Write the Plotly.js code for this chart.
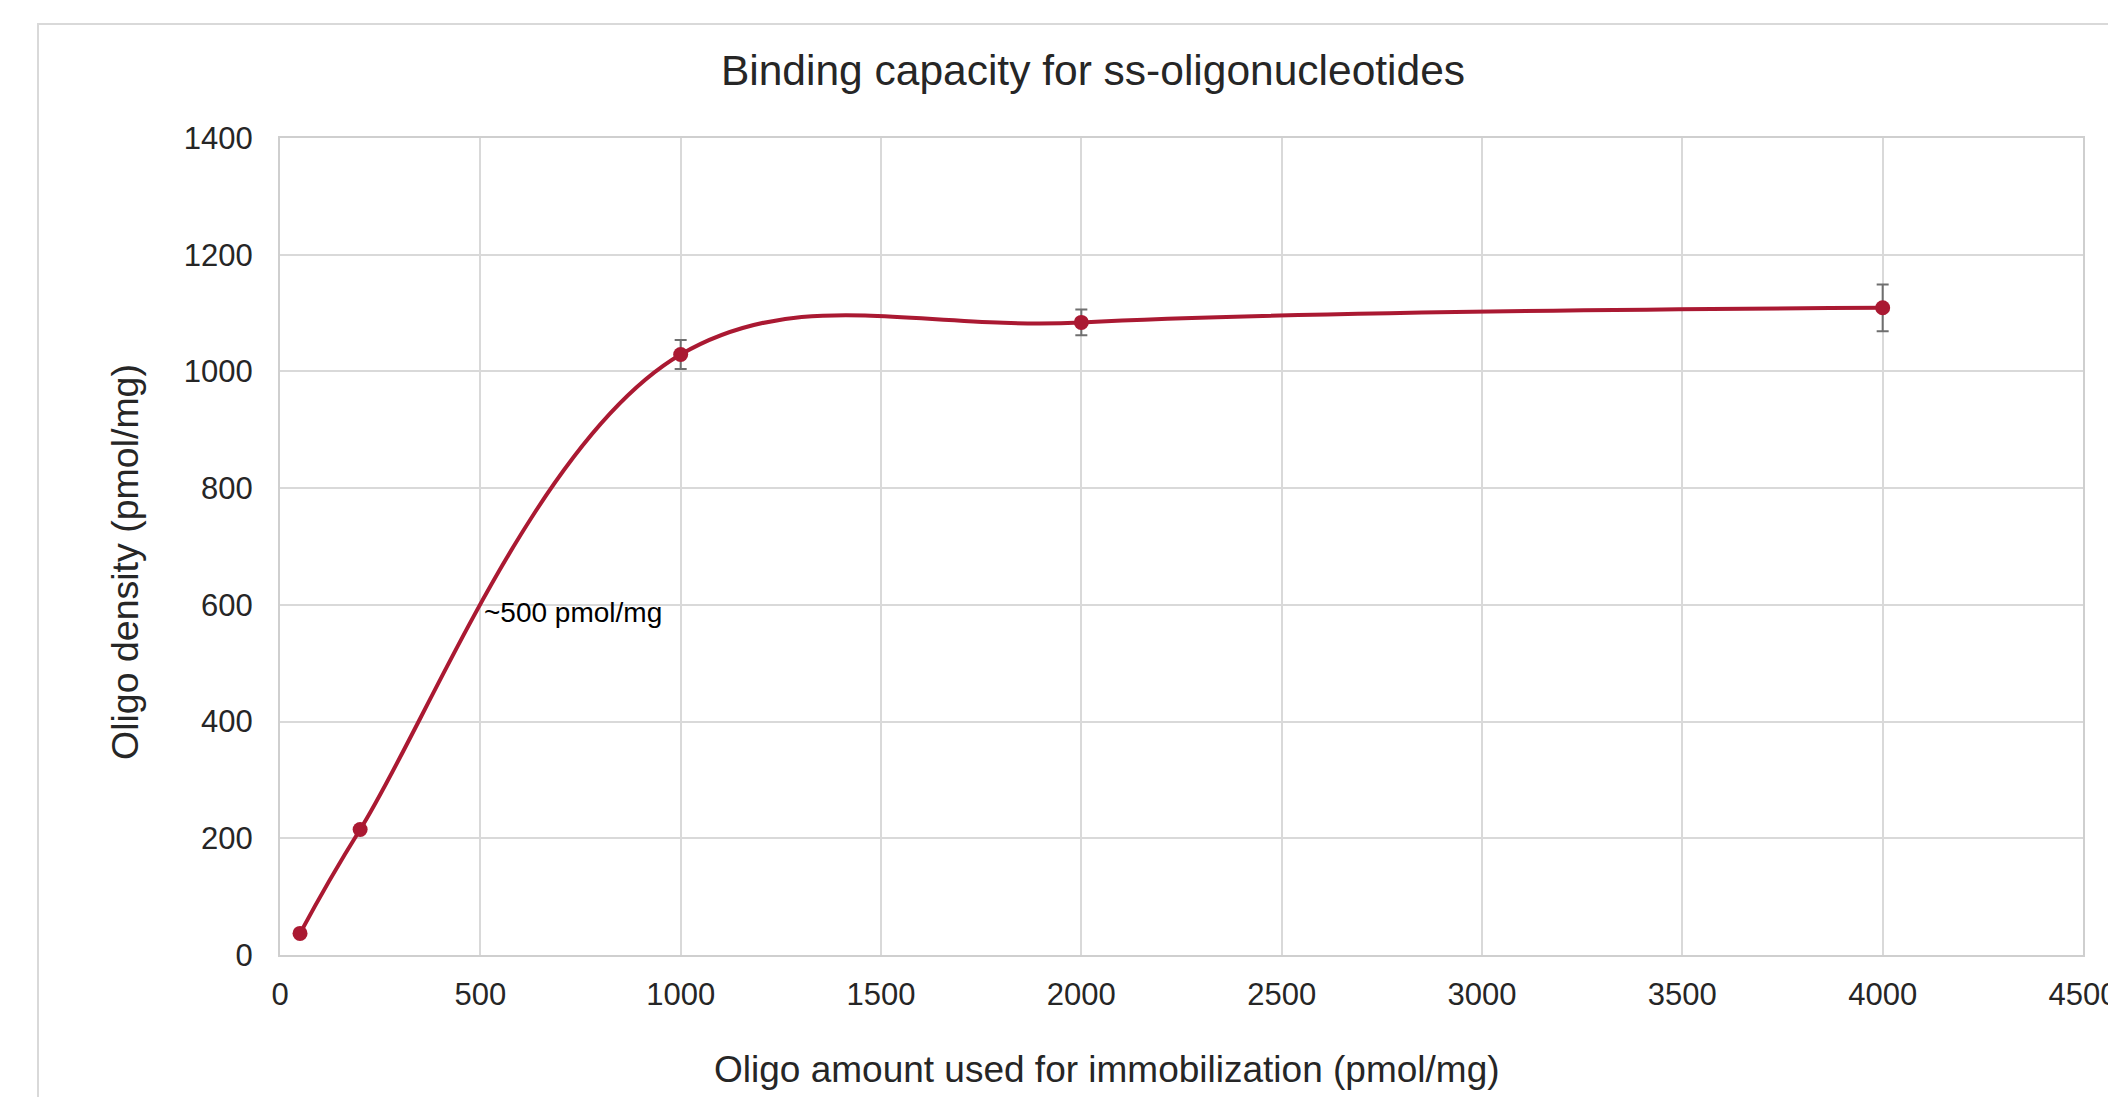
<!DOCTYPE html>
<html>
<head>
<meta charset="utf-8">
<script src="https://cdn.plot.ly/plotly-3.0.1.min.js"></script>
<style>
  html, body { margin: 0; padding: 0; background: #ffffff; }
  #chart { width: 2108px; height: 1097px; }
</style>
</head>
<body>
<div id="chart"></div>
<script>
// Data
const oligoAmount = [50, 200, 1000, 2000, 4000];          // pmol/mg used for immobilization
const oligoDensity = [37, 215, 1029, 1084, 1109];         // pmol/mg measured density
const densityError = [0, 0, 25, 22, 40];                  // error bar half-widths

const xTickVals = [0, 500, 1000, 1500, 2000, 2500, 3000, 3500, 4000, 4500];
const yTickVals = [0, 200, 400, 600, 800, 1000, 1200, 1400];

const chartTitle = 'Binding capacity for ss-oligonucleotides';
const xTitle = 'Oligo amount used for immobilization (pmol/mg)';
const yTitle = 'Oligo density (pmol/mg)';

const annotationText = '~500 pmol/mg';
const annotationX = 505;
const annotationY = 587;

const FONT = '"Liberation Sans", Arial, sans-serif';
const RED = '#aa1932';
const GRID = '#d9d9d9';
const TEXT = '#262626';

const trace = {
  type: 'scatter',
  mode: 'lines+markers',
  x: oligoAmount,
  y: oligoDensity,
  line: { color: RED, width: 4, shape: 'spline', smoothing: 1.05 },
  marker: { color: RED, size: 15 },
  error_y: {
    type: 'data',
    array: densityError,
    visible: true,
    color: '#6f6f6f',
    thickness: 2,
    width: 6
  },
  hoverinfo: 'x+y',
  showlegend: false
};

const layout = {
  width: 2108,
  height: 1097,
  margin: { l: 280, r: 25, t: 138, b: 142 },
  paper_bgcolor: '#ffffff',
  plot_bgcolor: '#ffffff',
  font: { family: FONT, color: TEXT, size: 31 },
  title: {
    text: chartTitle,
    font: { family: FONT, size: 42.5, color: TEXT },
    xref: 'container', yref: 'container',
    x: 1093 / 2108, xanchor: 'center',
    y: 1 - 70 / 1097, yanchor: 'middle'
  },
  xaxis: {
    range: [0, 4500],
    tickvals: xTickVals,
    ticktext: xTickVals.map(String),
    ticks: '',
    showgrid: true,
    gridcolor: GRID,
    gridwidth: 2,
    showline: true,
    linecolor: '#cfcfcf',
    linewidth: 2,
    mirror: true,
    zeroline: false,
    tickfont: { family: FONT, size: 31, color: TEXT },
    ticklabelstandoff: 11,
    ticklabeloverflow: 'allow',
    automargin: false
  },
  yaxis: {
    range: [0, 1400],
    tickvals: yTickVals,
    ticktext: yTickVals.map(String),
    ticks: '',
    showgrid: true,
    gridcolor: GRID,
    gridwidth: 2,
    showline: true,
    linecolor: '#cfcfcf',
    linewidth: 2,
    mirror: true,
    zeroline: false,
    tickfont: { family: FONT, size: 31, color: TEXT },
    ticklabelstandoff: 19,
    ticklabeloverflow: 'allow',
    automargin: false
  },
  annotations: [
    {
      x: annotationX,
      y: annotationY,
      xref: 'x', yref: 'y',
      text: annotationText,
      showarrow: false,
      xanchor: 'left',
      yanchor: 'middle',
      font: { family: FONT, size: 28, color: '#000000' }
    },
    {
      // x-axis title
      x: (1107 - 280) / 1803, y: (955 - 1069) / 817,
      xref: 'paper', yref: 'paper',
      text: xTitle,
      showarrow: false,
      xanchor: 'center', yanchor: 'middle',
      font: { family: FONT, size: 37, color: TEXT }
    },
    {
      // y-axis title
      x: (125 - 280) / 1803, y: (955 - 562) / 817,
      xref: 'paper', yref: 'paper',
      text: yTitle,
      textangle: -90,
      showarrow: false,
      xanchor: 'center', yanchor: 'middle',
      font: { family: FONT, size: 37.5, color: TEXT }
    }
  ],
  shapes: [{
    type: 'rect',
    xref: 'paper', yref: 'paper',
    x0: (38 - 280) / 1803, x1: 1.3,
    y0: -0.5, y1: (955 - 24) / 817,
    line: { color: GRID, width: 2 },
    fillcolor: 'rgba(0,0,0,0)',
    layer: 'below'
  }]
};

Plotly.newPlot('chart', [trace], layout, { displayModeBar: false, staticPlot: true });
</script>
</body>
</html>
